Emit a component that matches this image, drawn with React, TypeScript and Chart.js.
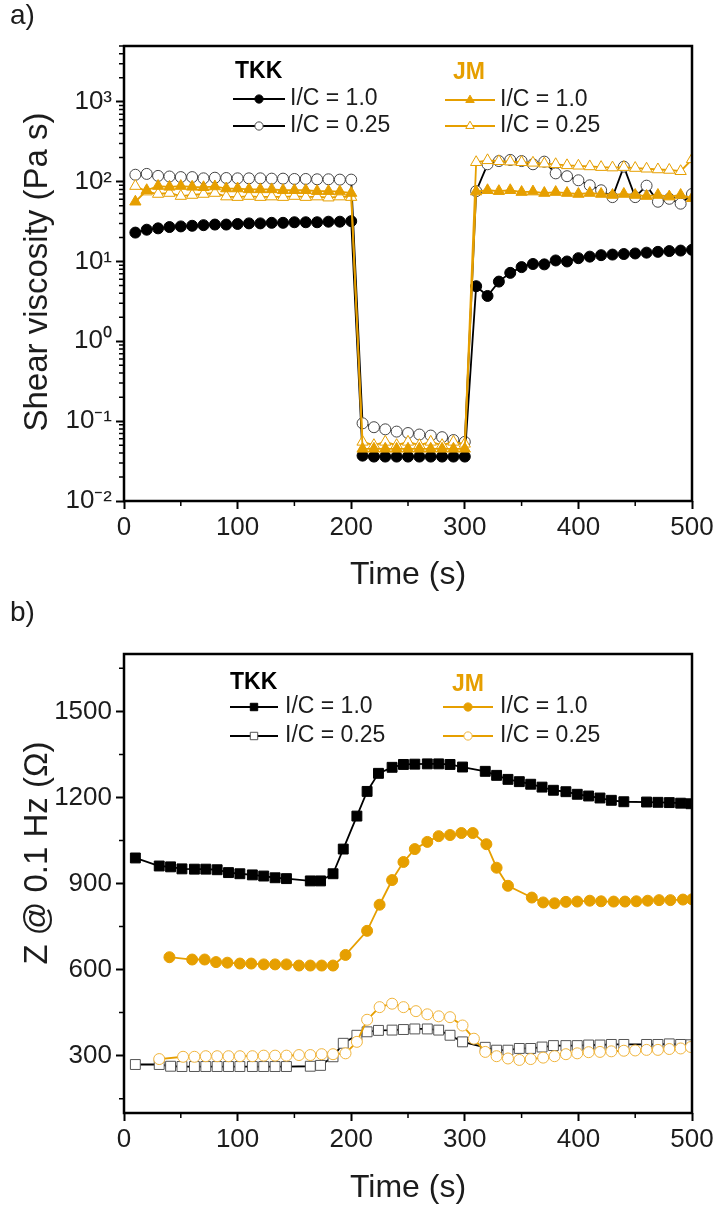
import React, { useEffect, useRef } from 'react';
import { Chart, registerables } from 'chart.js';

Chart.register(...registerables);

const FONT = "'Liberation Sans', Arial, Helvetica, sans-serif";
const ORANGE = '#E69F00';
const INK = '#1c1c1c';

// ---------------- panel a: shear viscosity (log) ----------------
const timeA = [10, 20, 30, 40, 50, 60, 70, 80, 90, 100, 110, 120, 130, 140, 150, 160, 170, 180, 190, 200,
  210, 220, 230, 240, 250, 260, 270, 280, 290, 300,
  310, 320, 330, 340, 350, 360, 370, 380, 390, 400, 410, 420, 430, 440, 450, 460, 470, 480, 490, 500];
const viscTKK10 = [23, 25, 26, 27, 27.5, 28, 28.5, 29, 29, 29.5, 30, 30, 30.5, 30.5, 31, 31, 31, 31.5, 31.5, 32,
  0.037, 0.036, 0.036, 0.036, 0.036, 0.036, 0.036, 0.036, 0.036, 0.036,
  4.9, 3.7, 5.6, 7.2, 8.5, 9.3, 9.2, 10.3, 10, 11, 11.5, 12, 12.2, 12.4, 12.6, 12.9, 13.2, 13.5, 13.7, 14];
const viscTKK025 = [122, 125, 118, 116, 114, 114, 110, 112, 111, 110, 110, 110, 109, 109, 108, 108, 107, 107, 106, 106,
  0.094, 0.084, 0.079, 0.074, 0.071, 0.068, 0.066, 0.063, 0.058, 0.055,
  76, 165, 181, 187, 181, 165, 178, 127, 117, 104, 90, 78, 64, 154, 64, 89, 56, 61, 53, 70];
const viscJM10 = [56, 78, 88, 86, 88, 86, 85, 87, 82, 82, 80, 80, 80, 78, 78, 78, 76, 76, 75, 72,
  0.045, 0.045, 0.045, 0.045, 0.045, 0.045, 0.045, 0.045, 0.045, 0.045,
  75, 78, 76, 78, 74, 75, 72, 74, 72, 70, 72, 70, 68, 70, 68, 66, 68, 65, 68, 62];
const viscJM025 = [88, 75, 70, 72, 66, 68, 70, 72, 65, 64, 66, 64, 65, 64, 66, 64, 65, 63, 65, 64,
  0.055, 0.05, 0.055, 0.05, 0.055, 0.05, 0.055, 0.05, 0.055, 0.052,
  175, 185, 180, 178, 175, 172, 168, 165, 160, 158, 155, 152, 150, 152, 148, 145, 142, 140, 135, 190];

const xTicks = [0, 100, 200, 300, 400, 500];
const xMinorTicks = [50, 150, 250, 350, 450];
const yTicksA = [0.01, 0.1, 1, 10, 100, 1000];

// ---------------- panel b: impedance ----------------
const timeTKK10B = [10, 31, 41, 51, 62, 72, 82, 92, 102, 113, 123, 133, 143, 164, 173, 184, 193, 205, 214, 224,
  236, 246, 256, 267, 277, 287, 298, 318, 328, 338, 348, 358, 368, 378, 389, 399, 409, 419, 429, 440,
  460, 470, 480, 490, 499];
const zTKK10 = [989, 961, 958, 951, 950, 950, 948, 938, 934, 930, 926, 920, 917, 909, 909, 934, 1020, 1135, 1221, 1284,
  1305, 1315, 1316, 1317, 1317, 1315, 1306, 1291, 1277, 1263, 1255, 1246, 1236, 1225, 1220, 1211, 1205, 1198, 1190, 1185,
  1184, 1183, 1182, 1180, 1178];
const timeTKK025B = [10, 31, 41, 51, 62, 72, 82, 92, 102, 113, 123, 133, 143, 164, 173, 184, 193, 205, 214, 224,
  236, 246, 256, 267, 277, 287, 298, 318, 328, 338, 348, 358, 368, 378, 389, 399, 409, 419, 429, 440,
  460, 470, 480, 490, 499];
const zTKK025 = [269, 269, 263, 262, 262, 262, 262, 262, 262, 262, 262, 262, 262, 263, 266, 296, 343, 371, 383, 388,
  389, 391, 393, 393, 389, 371, 348, 329, 319, 319, 325, 325, 330, 335, 335, 335, 337, 337, 339, 339,
  339, 339, 341, 339, 338];
const timeJM10B = [40, 60, 71, 81, 91, 102, 112, 123, 133, 143, 154, 164, 174, 184, 195, 214, 225, 236, 246, 256,
  267, 277, 287, 297, 307, 319, 328, 338, 359, 369, 379, 389, 399, 410, 420, 431, 441, 451, 461, 471,
  481, 492, 500];
const zJM10 = [643, 635, 635, 626, 624, 621, 621, 618, 618, 618, 614, 614, 614, 614, 651, 735, 826, 912, 975, 1020,
  1045, 1065, 1069, 1076, 1076, 1037, 955, 892, 851, 834, 831, 836, 837, 840, 838, 837, 837, 838, 840, 842,
  842, 844, 845];
const timeJM025B = [31, 52, 62, 72, 82, 92, 102, 113, 123, 133, 143, 154, 164, 174, 184, 195, 205, 214, 225, 236,
  246, 257, 267, 277, 287, 298, 308, 318, 328, 338, 348, 358, 369, 379, 389, 399, 409, 419, 429, 440,
  450, 460, 470, 480, 490, 499];
const zJM025 = [288, 296, 296, 298, 298, 298, 298, 298, 300, 300, 300, 302, 302, 305, 305, 308, 348, 425, 469, 481,
  469, 455, 444, 437, 434, 405, 359, 313, 298, 290, 285, 288, 293, 298, 305, 308, 312, 313, 315, 317,
  318, 320, 320, 323, 325, 330];
const yTicksB = [300, 600, 900, 1200, 1500];
const yMinorB = [150, 450, 750, 1050, 1350, 1650];

const SUP: Record<string, string> = { '-': '\u207B', '0': '\u2070', '1': '\u00B9', '2': '\u00B2', '3': '\u00B3' };
function logLabel(v: number): string {
  const l = Math.log10(v);
  const e = Math.round(l);
  if (Math.abs(l - e) > 1e-6) return '';
  return '10' + String(e).split('').map((c) => SUP[c]).join('');
}

function logMinors(): number[] {
  const out: number[] = [];
  for (const d of yTicksA) {
    for (let k = 2; k <= 9; k++) {
      const v = d * k;
      if (v <= 5000) out.push(v);
    }
  }
  return out;
}

function pts(t: number[], v: number[]) {
  return t.map((x, i) => ({ x, y: v[i] }));
}

function drawMarker(ctx: CanvasRenderingContext2D, style: string, x: number, y: number, r: number) {
  ctx.beginPath();
  if (style === 'rect') {
    const s = r * Math.SQRT1_2;
    ctx.rect(x - s, y - s, 2 * s, 2 * s);
  } else if (style === 'triangle') {
    let a = 0;
    ctx.moveTo(x + Math.sin(a) * r, y - Math.cos(a) * r);
    a += (2 * Math.PI) / 3;
    ctx.lineTo(x + Math.sin(a) * r, y - Math.cos(a) * r);
    a += (2 * Math.PI) / 3;
    ctx.lineTo(x + Math.sin(a) * r, y - Math.cos(a) * r);
    ctx.closePath();
  } else {
    ctx.arc(x, y, r, 0, Math.PI * 2);
  }
}

type Row = { ds: number; label: string; y: number };
type Group = { title: string; color: string; titleX: number; titleY: number; lineX0: number; lineX1: number; textX: number; rows: Row[] };
type YTitle = { text: string; x: number; y: number };

function decorPlugin(xMinor: number[], yMinor: number[], groups: Group[], yTitle: YTitle) {
  return {
    id: 'decor',
    afterDraw(chart: any) {
      const { ctx, chartArea: ca } = chart;
      const xs = chart.scales.x;
      const ys = chart.scales.y;
      ctx.save();
      ctx.strokeStyle = '#000';
      ctx.lineWidth = 1.5;
      ctx.beginPath();
      xMinor.forEach((v) => {
        const p = xs.getPixelForValue(v);
        ctx.moveTo(p, ca.bottom);
        ctx.lineTo(p, ca.bottom + 5);
      });
      yMinor.forEach((v) => {
        const p = ys.getPixelForValue(v);
        ctx.moveTo(ca.left, p);
        ctx.lineTo(ca.left - 5, p);
      });
      ctx.stroke();
      ctx.lineWidth = 2.5;
      ctx.strokeRect(ca.left, ca.top, ca.right - ca.left, ca.bottom - ca.top);

      // y-axis title (rotated)
      ctx.save();
      ctx.translate(yTitle.x, yTitle.y);
      ctx.rotate(-Math.PI / 2);
      ctx.textAlign = 'center';
      ctx.textBaseline = 'middle';
      ctx.font = `33px ${FONT}`;
      ctx.fillStyle = INK;
      ctx.fillText(yTitle.text, 0, 0);
      ctx.restore();

      ctx.textBaseline = 'middle';
      ctx.textAlign = 'left';
      for (const g of groups) {
        ctx.font = `bold 23px ${FONT}`;
        ctx.fillStyle = g.color;
        ctx.fillText(g.title, g.titleX, g.titleY);
        for (const row of g.rows) {
          const ds = chart.data.datasets[row.ds];
          ctx.strokeStyle = ds.borderColor;
          ctx.lineWidth = ds.borderWidth;
          ctx.beginPath();
          ctx.moveTo(g.lineX0, row.y);
          ctx.lineTo(g.lineX1, row.y);
          ctx.stroke();
          drawMarker(ctx, ds.pointStyle, (g.lineX0 + g.lineX1) / 2, row.y, ds.pointRadius * 0.75);
          ctx.fillStyle = ds.pointBackgroundColor;
          ctx.fill();
          ctx.lineWidth = ds.pointBorderWidth;
          ctx.strokeStyle = ds.pointBorderColor;
          ctx.stroke();
          ctx.font = `23px ${FONT}`;
          ctx.fillStyle = INK;
          ctx.fillText(row.label, g.textX, row.y);
        }
      }
      ctx.restore();
    },
  };
}

function xScale(axisHeight: number, titlePad: number) {
  return {
    type: 'linear',
    min: 0,
    max: 500,
    afterBuildTicks: (s: any) => {
      s.ticks = xTicks.map((v) => ({ value: v }));
    },
    afterFit: (s: any) => {
      s.height = axisHeight;
      s.paddingLeft = 0;
      s.paddingRight = 0;
    },
    grid: { display: true, drawOnChartArea: false, drawTicks: true, tickLength: 8, tickWidth: 2, tickColor: '#000' },
    border: { display: false },
    ticks: { autoSkip: false, maxRotation: 0, padding: 3, color: INK, font: { family: FONT, size: 26 } },
    title: { display: true, text: 'Time (s)', color: INK, font: { family: FONT, size: 32 }, padding: { top: 0, bottom: titlePad } },
  };
}

function yCommon() {
  return {
    afterFit: (s: any) => {
      s.width = 124;
      s.paddingTop = 0;
      s.paddingBottom = 0;
    },
    grid: { display: true, drawOnChartArea: false, drawTicks: true, tickLength: 8, tickWidth: 2, tickColor: '#000' },
    border: { display: false },
    title: { display: false },
  };
}

function lineDs(label: string, data: any[], color: string, style: string, r: number, filled: boolean, pBorder: string, order: number) {
  return {
    label,
    data,
    borderColor: color,
    borderWidth: 1.8,
    pointStyle: style,
    pointRadius: r,
    pointBackgroundColor: filled ? color : '#ffffff',
    pointBorderColor: pBorder,
    pointBorderWidth: 1,
    fill: false,
    tension: 0,
    order,
  };
}

function buildA(): any {
  return {
    type: 'line',
    data: {
      datasets: [
        lineDs('TKK I/C = 1.0', pts(timeA, viscTKK10), '#000000', 'circle', 5.5, true, '#000000', 1),
        lineDs('TKK I/C = 0.25', pts(timeA, viscTKK025), '#000000', 'circle', 5.5, false, '#444444', 1),
        lineDs('JM I/C = 1.0', pts(timeA, viscJM10), ORANGE, 'triangle', 6.5, true, ORANGE, 0),
        lineDs('JM I/C = 0.25', pts(timeA, viscJM025), ORANGE, 'triangle', 6.5, false, ORANGE, 0),
      ],
    },
    options: {
      responsive: false,
      animation: false,
      events: [],
      layout: { padding: { left: 0, right: 29, top: 46, bottom: 0 } },
      plugins: { legend: { display: false }, tooltip: { enabled: false } },
      scales: {
        x: xScale(99, 6),
        y: {
          type: 'logarithmic',
          min: 0.01,
          max: 5000,
          afterBuildTicks: (s: any) => {
            s.ticks = yTicksA.map((v) => ({ value: v }));
          },
          ticks: { autoSkip: false, padding: 4, color: INK, font: { family: FONT, size: 26 }, callback: (v: any) => logLabel(Number(v)) },
          ...yCommon(),
        },
      },
    },
    plugins: [
      decorPlugin(xMinorTicks, logMinors(), [
        { title: 'TKK', color: '#000000', titleX: 235, titleY: 72, lineX0: 233, lineX1: 285, textX: 290,
          rows: [{ ds: 0, label: 'I/C = 1.0', y: 99 }, { ds: 1, label: 'I/C = 0.25', y: 126 }] },
        { title: 'JM', color: ORANGE, titleX: 453, titleY: 73, lineX0: 445, lineX1: 495, textX: 500,
          rows: [{ ds: 2, label: 'I/C = 1.0', y: 100 }, { ds: 3, label: 'I/C = 0.25', y: 126 }] },
      ], { text: 'Shear viscosity (Pa s)', x: 38, y: 272 }),
    ],
  };
}

function buildB(): any {
  return {
    type: 'line',
    data: {
      datasets: [
        lineDs('TKK I/C = 1.0', pts(timeTKK10B, zTKK10), '#000000', 'rect', 7, true, '#000000', 1),
        lineDs('TKK I/C = 0.25', pts(timeTKK025B, zTKK025), '#000000', 'rect', 7, false, '#555555', 1),
        lineDs('JM I/C = 1.0', pts(timeJM10B, zJM10), ORANGE, 'circle', 5.5, true, ORANGE, 0),
        lineDs('JM I/C = 0.25', pts(timeJM025B, zJM025), ORANGE, 'circle', 5.5, false, '#F0B43C', 0),
      ],
    },
    options: {
      responsive: false,
      animation: false,
      events: [],
      layout: { padding: { left: 0, right: 29, top: 54, bottom: 0 } },
      plugins: { legend: { display: false }, tooltip: { enabled: false } },
      scales: {
        x: xScale(94, 0),
        y: {
          type: 'linear',
          min: 100,
          max: 1700,
          afterBuildTicks: (s: any) => {
            s.ticks = yTicksB.map((v) => ({ value: v }));
          },
          ticks: { autoSkip: false, padding: 4, color: INK, font: { family: FONT, size: 26 }, callback: (v: any) => String(v) },
          ...yCommon(),
        },
      },
    },
    plugins: [
      decorPlugin(xMinorTicks, yMinorB, [
        { title: 'TKK', color: '#000000', titleX: 230, titleY: 83, lineX0: 230, lineX1: 278, textX: 285,
          rows: [{ ds: 0, label: 'I/C = 1.0', y: 107 }, { ds: 1, label: 'I/C = 0.25', y: 136 }] },
        { title: 'JM', color: ORANGE, titleX: 452, titleY: 85, lineX0: 443, lineX1: 493, textX: 500,
          rows: [{ ds: 2, label: 'I/C = 1.0', y: 107 }, { ds: 3, label: 'I/C = 0.25', y: 136 }] },
      ], { text: 'Z @ 0.1 Hz (\u03A9)', x: 38, y: 253 }),
    ],
  };
}

export default function App() {
  const refA = useRef<HTMLCanvasElement>(null);
  const refB = useRef<HTMLCanvasElement>(null);
  useEffect(() => {
    const a = new Chart(refA.current as HTMLCanvasElement, buildA());
    const b = new Chart(refB.current as HTMLCanvasElement, buildB());
    return () => {
      a.destroy();
      b.destroy();
    };
  }, []);
  const panelLabel: React.CSSProperties = {
    position: 'absolute',
    left: 10,
    fontFamily: FONT,
    fontSize: 28,
    lineHeight: '30px',
    color: INK,
  };
  return (
    <div style={{ position: 'absolute', left: 0, top: 0, width: 721, height: 1207, background: '#ffffff', overflow: 'hidden' }}>
      <canvas ref={refA} width={721} height={600} style={{ position: 'absolute', left: 0, top: 0 }} />
      <canvas ref={refB} width={721} height={607} style={{ position: 'absolute', left: 0, top: 600 }} />
      <div style={{ ...panelLabel, top: 0 }}>a)</div>
      <div style={{ ...panelLabel, top: 597 }}>b)</div>
    </div>
  );
}
